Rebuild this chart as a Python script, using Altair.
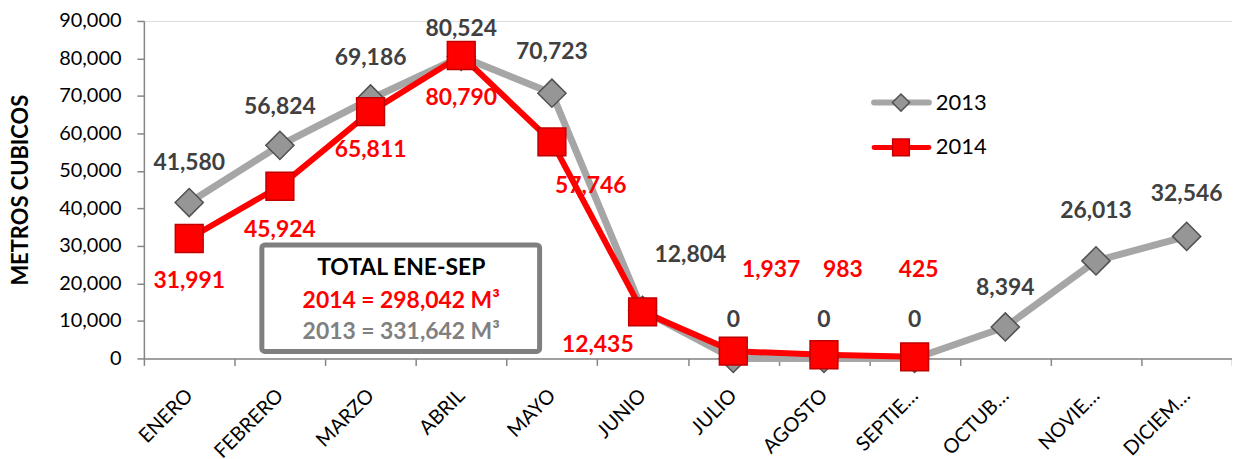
import altair as alt
import pandas as pd

MONTHS = ["ENERO", "FEBRERO", "MARZO", "ABRIL", "MAYO", "JUNIO", "JULIO",
          "AGOSTO", "SEPTIEMBRE", "OCTUBRE", "NOVIEMBRE", "DICIEMBRE"]
TICK_LABELS = ["ENERO", "FEBRERO", "MARZO", "ABRIL", "MAYO", "JUNIO", "JULIO",
               "AGOSTO", "SEPTIE…", "OCTUB…", "NOVIE…", "DICIEM…"]
V2013 = [41580, 56824, 69186, 80524, 70723, 12804, 0, 0, 0, 8394, 26013, 32546]
V2014 = [31991, 45924, 65811, 80790, 57746, 12435, 1937, 983, 425]

# label offsets in pixels (style, not data)
DX2013 = [0, 0, 0, 0, 0, 48, 0, 0, 0, 0, 0, 0]
DY2013 = [-40, -39, -41, -28, -41, -56, -39, -39, -39, -39, -50, -43]
DX2014 = [0, 0, 0, 0, 39, -45, 38, 19, 4]
DY2014 = [43, 44, 39, 43, 44, 33, -82, -85, -87]

FONT = "Lato"
W, H = 1093, 339
GRAY_LINE = "#a6a6a6"
RED = "#ff0000"

d13 = pd.DataFrame({"month": MONTHS, "value": V2013})
d14 = pd.DataFrame({"month": MONTHS[:len(V2014)], "value": V2014})

label_expr = "[" + ",".join(f"'{t}'" for t in TICK_LABELS) + "][indexof([" + \
    ",".join(f"'{m}'" for m in MONTHS) + "], datum.value)]"

x = alt.X("month:N", sort=MONTHS,
          scale=alt.Scale(type="band", paddingInner=0, paddingOuter=0, domain=MONTHS),
          axis=alt.Axis(title=None, tickBand="extent", labelAngle=-45, labelAlign="right",
                        labelBaseline="middle", labelPadding=27, labelOffset=0,
                        labelFontSize=20, labelFont=FONT, labelColor="black",
                        domainColor="#868686", domainWidth=1.5, tickColor="#868686",
                        tickWidth=1.5, tickSize=7, labelExpr=label_expr))
y = alt.Y("value:Q", scale=alt.Scale(domain=[0, 90000], nice=False),
          axis=alt.Axis(title="METROS CUBICOS", values=list(range(0, 90001, 10000)),
                        format=",d", grid=False, labelFontSize=20, labelFont=FONT,
                        labelColor="black", labelPadding=16, tickSize=7,
                        tickColor="#868686", tickWidth=1.5, domainColor="#868686",
                        domainWidth=1.5, titleFont=FONT, titleFontSize=22,
                        titleFontWeight="bold", titleColor="black",
                        titleX=-117, titleY=H / 2, titleBaseline="alphabetic",
                        titleAngle=-90))

base13 = alt.Chart(d13).encode(x=x, y=y)
base14 = alt.Chart(d14).encode(x=x, y=y)

line13 = base13.mark_line(color=GRAY_LINE, strokeWidth=7)
pts13 = base13.mark_point(shape="diamond", size=800, filled=True, fill="#969696",
                          stroke="#505050", strokeWidth=1.5, opacity=1)
line14 = base14.mark_line(color=RED, strokeWidth=6)
pts14 = base14.mark_point(shape="square", size=780, filled=True, fill=RED,
                          stroke="#c00000", strokeWidth=1.5, opacity=1)

labels = []
for i, (m, v) in enumerate(zip(MONTHS, V2013)):
    labels.append(alt.Chart(pd.DataFrame({"month": [m], "value": [v]})).mark_text(
        font=FONT, fontSize=23, fontWeight="bold", color="#404040",
        dx=DX2013[i], dy=DY2013[i], baseline="middle", align="center").encode(
        x=x, y=y, text=alt.Text("value:Q", format=",d")))
for i, v in enumerate(V2014):
    labels.append(alt.Chart(pd.DataFrame({"month": [MONTHS[i]], "value": [v]})).mark_text(
        font=FONT, fontSize=23, fontWeight="bold", color=RED,
        dx=DX2014[i], dy=DY2014[i], baseline="middle", align="center").encode(
        x=x, y=y, text=alt.Text("value:Q", format=",d")))

one = pd.DataFrame({"a": [0]})
box = alt.Chart(one).mark_rect(fill="white", stroke="#7f7f7f", strokeWidth=5,
                               cornerRadius=3).encode(
    x=alt.value(118.5), x2=alt.value(397.5), y=alt.value(225), y2=alt.value(332))
BOX_TEXT = ["TOTAL ENE-SEP", "2014 = 298,042 M³", "2013 = 331,642 M³"]
BOX_COLORS = ["black", RED, "#808080"]
BOX_Y = [248, 281, 312]
box_texts = [alt.Chart(one).mark_text(text=t, font=FONT, fontSize=23, fontWeight="bold",
                                      color=c, align="center", baseline="middle").encode(
    x=alt.value(258.5), y=alt.value(yy)) for t, c, yy in zip(BOX_TEXT, BOX_COLORS, BOX_Y)]

# legend
leg = [
    alt.Chart(one).mark_rule(color=GRAY_LINE, strokeWidth=6, strokeCap="round").encode(
        x=alt.value(733.5), x2=alt.value(788.5), y=alt.value(82)),
    alt.Chart(one).mark_point(shape="diamond", size=300, filled=True, fill="#969696",
                              stroke="#505050", strokeWidth=1.5, opacity=1).encode(
        x=alt.value(760.5), y=alt.value(82)),
    alt.Chart(one).mark_text(text="2013", font=FONT, fontSize=22, color="black",
                             align="left", baseline="middle").encode(
        x=alt.value(795.5), y=alt.value(82)),
    alt.Chart(one).mark_rule(color=RED, strokeWidth=5, strokeCap="round").encode(
        x=alt.value(733.5), x2=alt.value(788.5), y=alt.value(127)),
    alt.Chart(one).mark_point(shape="square", size=280, filled=True, fill=RED,
                              stroke="#c00000", strokeWidth=1.5, opacity=1).encode(
        x=alt.value(760.5), y=alt.value(127)),
    alt.Chart(one).mark_text(text="2014", font=FONT, fontSize=22, color="black",
                             align="left", baseline="middle").encode(
        x=alt.value(795.5), y=alt.value(127)),
]

chart = alt.layer(line13, pts13, line14, pts14, *labels, box, *box_texts, *leg).properties(
    width=W, height=H,
    autosize=alt.AutoSizeParams(type="none"),
    padding={"left": 136.5, "top": 12, "right": 0, "bottom": 100},
).configure_view(stroke=None).configure(background="white")

chart.save("out.html", embed_options={"renderer": "svg", "actions": False})
